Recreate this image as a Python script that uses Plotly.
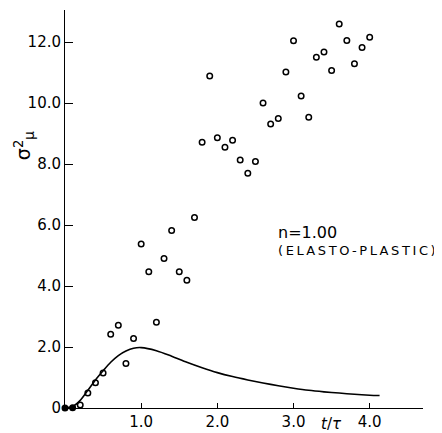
import plotly.graph_objects as go

# measured points (t/tau, sigma_mu^2)
t_pts = [0.0, 0.1, 0.2, 0.3, 0.4, 0.5, 0.6, 0.7, 0.8, 0.9,
         1.0, 1.1, 1.2, 1.3, 1.4, 1.5, 1.6, 1.7, 1.8, 1.9,
         2.0, 2.1, 2.2, 2.3, 2.4, 2.5, 2.6, 2.7, 2.8, 2.9,
         3.0, 3.1, 3.2, 3.3, 3.4, 3.5, 3.6, 3.7, 3.8, 3.9, 4.0]
s_pts = [0.0, 0.01, 0.1, 0.49, 0.83, 1.15, 2.42, 2.71, 1.46, 2.28,
         5.38, 4.47, 2.81, 4.90, 5.82, 4.47, 4.19, 6.25, 8.71, 10.89,
         8.86, 8.55, 8.78, 8.13, 7.70, 8.08, 10.0, 9.31, 9.49, 11.02,
         12.04, 10.23, 9.53, 11.50, 11.67, 11.07, 12.59, 12.05, 11.29, 11.82, 12.16]

# theory curve
t_curve = [0.0, 0.1, 0.2, 0.3, 0.4, 0.5, 0.6, 0.7, 0.8, 0.9, 1.0, 1.2, 1.4, 1.6,
           1.8, 2.0, 2.2, 2.4, 2.6, 2.8, 3.0, 3.2, 3.4, 3.6, 3.8, 4.0, 4.13]
s_curve = [0.0, 0.05, 0.25, 0.58, 0.92, 1.22, 1.5, 1.72, 1.87, 1.96, 1.98, 1.88, 1.70, 1.50,
           1.32, 1.16, 1.03, 0.92, 0.82, 0.73, 0.65, 0.58, 0.53, 0.49, 0.45, 0.42, 0.41]

y_tickvals = [0, 2, 4, 6, 8, 10, 12]
y_ticktext = ["0", "2.0", "4.0", "6.0", "8.0", "10.0", "12.0"]
x_tickvals = [1, 2, 3, 4]
x_ticktext = ["1.0", "2.0", "3.0", "4.0"]

FONT = "DejaVu Sans"
THIN = "\u2009"

fig = go.Figure()
fig.add_trace(go.Scatter(x=t_curve, y=s_curve, mode="lines",
                         line=dict(color="black", width=1.6, shape="spline", smoothing=0.8),
                         hoverinfo="skip", showlegend=False))
symbols = ["circle" if i < 2 else "circle-open" for i in range(len(t_pts))]
fig.add_trace(go.Scatter(x=t_pts, y=s_pts, mode="markers",
                         marker=dict(symbol=symbols, size=5.5, color="black",
                                     line=dict(color="black", width=1.5)),
                         showlegend=False, cliponaxis=False))

# page body has an 8px default margin, so the figure is 8px smaller
fig.update_layout(
    width=434, height=425,
    margin=dict(l=57, r=19, t=2, b=25, autoexpand=False),
    paper_bgcolor="white", plot_bgcolor="white",
    font=dict(family=FONT, size=15, color="black"),
    xaxis=dict(range=[0, 4.7], showgrid=False, zeroline=False, automargin=False,
               showline=True, linecolor="black", linewidth=1,
               ticks="inside", ticklen=5, tickcolor="black",
               tickvals=x_tickvals, ticktext=x_ticktext,
               tickfont=dict(family=FONT, size=15)),
    yaxis=dict(range=[0, 13.05], showgrid=False, zeroline=False, automargin=False,
               showline=True, linecolor="black", linewidth=1,
               ticks="inside", ticklen=8, tickcolor="black",
               tickvals=y_tickvals, ticktext=y_ticktext,
               tickfont=dict(family=FONT, size=15)),
    annotations=[
        dict(text="σ<sup>2</sup><sub>μ</sub>", xref="paper", yref="paper",
             x=-0.115, y=0.66, xanchor="center", yanchor="middle",
             textangle=-90, showarrow=False,
             font=dict(family=FONT, size=19)),
        dict(text="<i>t</i>/<i>τ</i>", xref="x", yref="paper",
             x=3.5, y=-0.04, showarrow=False, xanchor="center", yanchor="middle",
             font=dict(family=FONT, size=15)),
        dict(text="n=1.00", xref="x", yref="y", x=2.77, y=5.77,
             xanchor="left", yanchor="middle", showarrow=False,
             font=dict(family=FONT, size=16)),
        dict(text=THIN.join("(ELASTO-PLASTIC)"), xref="x", yref="y", x=2.77, y=5.18,
             xanchor="left", yanchor="middle", showarrow=False,
             font=dict(family=FONT, size=13)),
    ],
)

fig.write_html("out.html")
